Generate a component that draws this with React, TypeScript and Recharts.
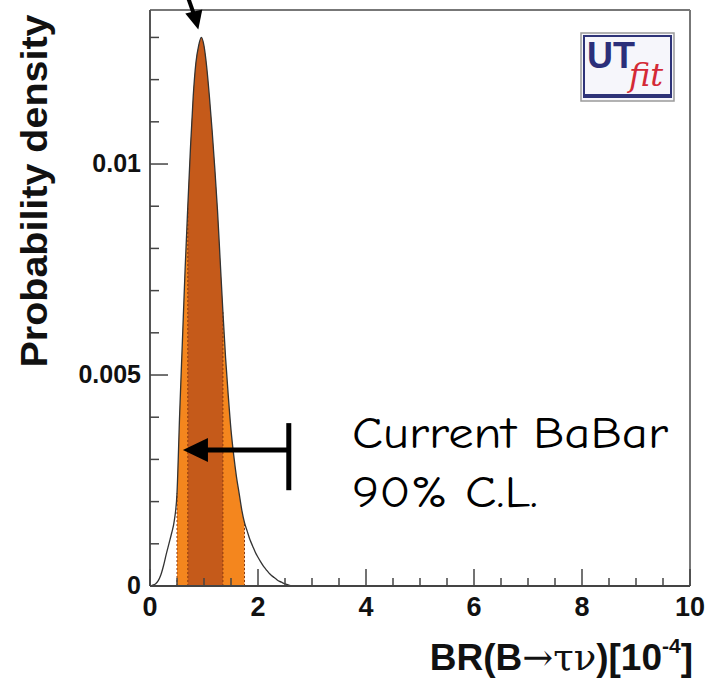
import React from "react";
import {
  ComposedChart,
  Area,
  Line,
  XAxis,
  YAxis,
  ReferenceLine,
  ReferenceDot,
  Customized,
} from "recharts";

// BR(B -> tau nu) in units of 1e-4, and the fitted probability density
const brValues = [
  0, 0.05, 0.1, 0.15, 0.2, 0.25, 0.3, 0.35, 0.4, 0.45, 0.5, 0.55, 0.6, 0.65,
  0.7, 0.75, 0.8, 0.85, 0.9, 0.95, 1.0, 1.05, 1.1, 1.15, 1.2, 1.25, 1.3, 1.35,
  1.4, 1.45, 1.5, 1.55, 1.6, 1.65, 1.7, 1.75, 1.8, 1.85, 1.9, 1.95, 2.0, 2.05,
  2.1, 2.15, 2.2, 2.25, 2.3, 2.35, 2.4, 2.45, 2.5, 2.55, 2.6, 2.65,
];
const densityValues = [
  0, 0.00002, 0.00005, 0.00012, 0.00026, 0.00048, 0.00075, 0.001, 0.00125,
  0.00155, 0.0022, 0.0041, 0.0058, 0.0075, 0.009, 0.0104, 0.0116, 0.0124,
  0.0128, 0.013, 0.0128, 0.0123, 0.0116, 0.0108, 0.0099, 0.0089, 0.0077,
  0.0065, 0.0054, 0.0045, 0.0037, 0.0031, 0.0026, 0.0022, 0.0018, 0.0015,
  0.0013, 0.0011, 0.00095, 0.0008, 0.00068, 0.00057, 0.00047, 0.00039,
  0.00031, 0.00025, 0.0002, 0.00015, 0.00011, 0.00008, 0.00005, 0.00003,
  0.00001, 0,
];

// probability regions
const band95 = [0.5, 1.75];
const band68 = [0.7, 1.35];

// BaBar 90% C.L. upper limit
const babarLimit = 2.57;
const arrowLevel = 0.00322;
const barRange = [0.00227, 0.00386];
const arrowTip = 0.61;

const xTicks = [
  0, 0.5, 1, 1.5, 2, 2.5, 3, 3.5, 4, 4.5, 5, 5.5, 6, 6.5, 7, 7.5, 8, 8.5, 9,
  9.5, 10,
];
const xTickLabels: Record<string, string> = {
  "0": "0", "2": "2", "4": "4", "6": "6", "8": "8", "10": "10",
};
const yTicks = [
  0, 0.001, 0.002, 0.003, 0.004, 0.005, 0.006, 0.007, 0.008, 0.009, 0.01,
  0.011, 0.012, 0.013,
];
const yTickLabels: Record<string, string> = {
  "0": "0", "0.005": "0.005", "0.01": "0.01",
};

const yMax = 0.01365;
const peakIndex = 19;

const data = brValues.map((x, i) => {
  const d = densityValues[i];
  return {
    x,
    d,
    light: x >= band95[0] && x <= band95[1] ? d : null,
    dark: x >= band68[0] && x <= band68[1] ? d : null,
  };
});

const densityAt = (x: number) => densityValues[brValues.indexOf(x)];

const font = "'Liberation Sans', Arial, Helvetica, sans-serif";
const tickColor = "#444";

const XTick = (props: any) => {
  const { x, y, payload } = props;
  const label = xTickLabels[String(payload.value)];
  const len = label !== undefined ? 17 : 8;
  return (
    <g>
      <line x1={x} y1={y} x2={x} y2={y - len} stroke={tickColor} strokeWidth={1.5} />
      {label !== undefined && (
        <text x={x} y={y + 30} textAnchor="middle" fontFamily={font} fontWeight="bold" fontSize={27} fill="#111">
          {label}
        </text>
      )}
    </g>
  );
};

const YTick = (props: any) => {
  const { x, y, payload } = props;
  const label = yTickLabels[String(payload.value)];
  const len = label !== undefined ? 18 : 9;
  return (
    <g>
      <line x1={x} y1={y} x2={x + len} y2={y} stroke={tickColor} strokeWidth={1.5} />
      {label !== undefined && (
        <text x={x - 9} y={y + 8} textAnchor="end" fontFamily={font} fontWeight="bold" fontSize={25} fill="#111">
          {label}
        </text>
      )}
    </g>
  );
};

const LeftArrowHead = (props: any) => {
  const { cx, cy } = props;
  return <polygon points={`${cx},${cy} ${cx + 25},${cy - 12} ${cx + 25},${cy + 12}`} fill="#000" />;
};

const PeakArrow = (props: any) => {
  const { cx, cy } = props;
  const tx = cx - 3;
  const ty = cy - 8;
  return (
    <g>
      <line x1={cx - 14} y1={cy - 42} x2={tx - 4} y2={ty - 14} stroke="#000" strokeWidth={4} />
      <polygon points={`${tx},${ty} ${tx - 13},${ty - 16} ${tx + 4},${ty - 20}`} fill="#000" />
    </g>
  );
};

const Decorations = () => (
  <g>
    <text
      transform="translate(47,191) rotate(-90)"
      textAnchor="middle"
      fontFamily={font}
      fontWeight="bold"
      fontSize={37}
      textLength={353}
      lengthAdjust="spacingAndGlyphs"
      fill="#111"
    >
      Probability density
    </text>
    <text x={693} y={670} textAnchor="end" fontFamily={font} fontWeight="bold" fontSize={37} fill="#111">
      BR(B
      <tspan fontWeight="normal" fontFamily="'DejaVu Serif', serif">→τν</tspan>
      )[10
      <tspan fontSize={21} dy={-17}>-4</tspan>
      <tspan dy={17}>]</tspan>
    </text>
    <text
      x={352}
      y={448}
      fontFamily="'Comic Sans MS', 'Comic Neue', 'DejaVu Sans', sans-serif"
      fontSize={44}
      textLength={316}
      lengthAdjust="spacingAndGlyphs"
      fill="#000"
    >
      Current BaBar
    </text>
    <text
      x={352}
      y={507}
      fontFamily="'Comic Sans MS', 'Comic Neue', 'DejaVu Sans', sans-serif"
      fontSize={44}
      textLength={186}
      lengthAdjust="spacingAndGlyphs"
      fill="#000"
    >
      90% C.L.
    </text>
    {/* UTfit logo */}
    <rect x={581} y={33} width={93} height={68} fill="#f6f6fb" stroke="#9a9a9a" strokeWidth={1.5} />
    <rect x={584} y={36} width={87} height={61} fill="none" stroke="#2e3378" strokeWidth={2} />
    <line x1={584} y1={95} x2={671} y2={95} stroke="#2e3378" strokeWidth={2} />
    <text x={587} y={68} fontFamily={font} fontWeight="bold" fontSize={36} fill="#2b2f7a">
      UT
    </text>
    <text x={629} y={86} fontFamily="'DejaVu Serif', 'Liberation Serif', serif" fontStyle="italic" fontSize={32} fill="#d42a36">
      fit
    </text>
  </g>
);

export default function App() {
  return (
    <div style={{ position: "absolute", left: 0, top: 0, background: "#fff" }}>
      <ComposedChart
        width={716}
        height={687}
        data={data}
        margin={{ top: 10, right: 26, bottom: 71, left: 90 }}
      >
        <Area
          type="monotone"
          dataKey="light"
          stroke="none"
          fill="#f4861e"
          fillOpacity={1}
          isAnimationActive={false}
        />
        <Area
          type="monotone"
          dataKey="dark"
          stroke="none"
          fill="#c55a1a"
          fillOpacity={1}
          isAnimationActive={false}
        />
        {[band95[0], band68[0], band68[1], band95[1]].map((bx) => (
          <ReferenceLine
            key={bx}
            segment={[{ x: bx, y: 0 }, { x: bx, y: densityAt(bx) }]}
            stroke="#8a3a10"
            strokeWidth={1}
            strokeDasharray="2 2"
          />
        ))}
        <Line
          type="monotone"
          dataKey="d"
          stroke="#333"
          strokeWidth={1.3}
          dot={false}
          isAnimationActive={false}
        />
        <ReferenceLine y={yMax} stroke="#777" strokeWidth={2} ifOverflow="visible" />
        <ReferenceLine x={10} stroke="#777" strokeWidth={2} ifOverflow="visible" />
        <XAxis
          type="number"
          dataKey="x"
          domain={[0, 10]}
          ticks={xTicks}
          interval={0}
          height={30}
          tickSize={0}
          tickMargin={0}
          tickLine={false}
          axisLine={{ stroke: "#444", strokeWidth: 2 }}
          tick={<XTick />}
        />
        <YAxis
          type="number"
          domain={[0, yMax]}
          allowDataOverflow
          ticks={yTicks}
          interval={0}
          width={60}
          tickSize={0}
          tickMargin={0}
          tickLine={false}
          axisLine={{ stroke: "#555", strokeWidth: 2 }}
          tick={<YTick />}
        />
        <ReferenceLine
          segment={[{ x: babarLimit, y: arrowLevel }, { x: arrowTip + 0.4, y: arrowLevel }]}
          stroke="#000"
          strokeWidth={5}
        />
        <ReferenceLine
          segment={[{ x: babarLimit, y: barRange[0] }, { x: babarLimit, y: barRange[1] }]}
          stroke="#000"
          strokeWidth={5}
        />
        <ReferenceDot x={arrowTip} y={arrowLevel} shape={<LeftArrowHead />} />
        <ReferenceDot
          x={brValues[peakIndex]}
          y={densityValues[peakIndex]}
          ifOverflow="visible"
          shape={<PeakArrow />}
        />
        <Customized component={<Decorations />} />
      </ComposedChart>
    </div>
  );
}
